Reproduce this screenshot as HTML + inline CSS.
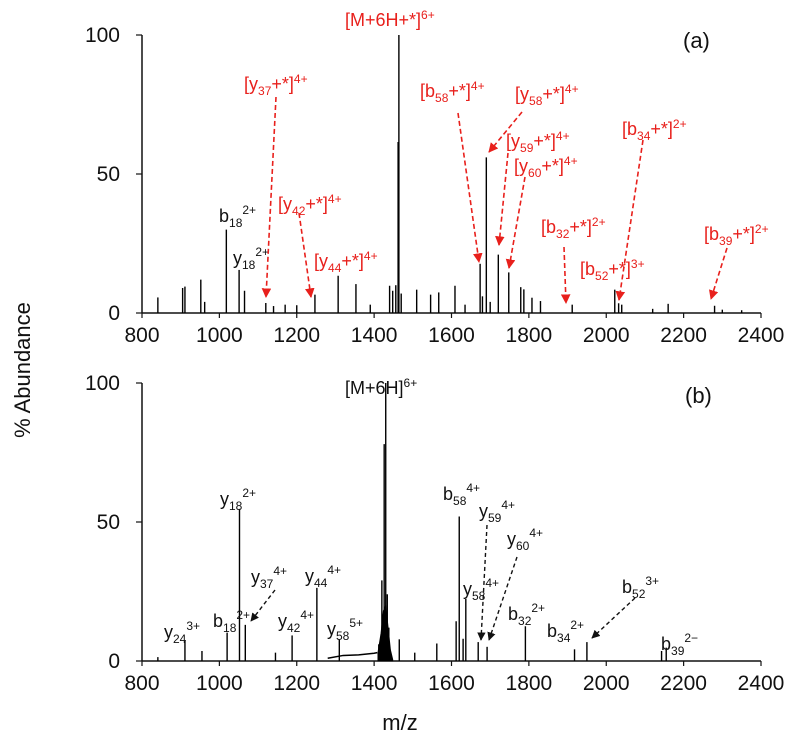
<!DOCTYPE html>
<html><head><meta charset="utf-8"><style>
html,body{margin:0;padding:0;background:#fff}
svg{display:block;font-family:"Liberation Sans",sans-serif}
.red{fill:#e8201c}.blk{fill:#111}
.ar{stroke:#e8201c;stroke-width:1.6;stroke-dasharray:5,3;fill:none}
.ab{stroke:#111;stroke-width:1.4;stroke-dasharray:4,3;fill:none}
</style></head><body>
<svg id="chart" width="800" height="740" viewBox="0 0 800 740" xmlns="http://www.w3.org/2000/svg">
<defs>
<marker id="mr" viewBox="0 0 10 10" refX="9" refY="5" markerWidth="6" markerHeight="6" orient="auto"><path d="M0,0L10,5L0,10z" fill="#e8201c"/></marker>
<marker id="mb" viewBox="0 0 10 10" refX="9" refY="5" markerWidth="6" markerHeight="6" orient="auto"><path d="M0,0L10,5L0,10z" fill="#111"/></marker>
</defs>
<g id="panelA"></g>
<g id="panelB"></g>

<text x="30" y="370" font-size="22" text-anchor="middle" transform="rotate(-90 30 370)" class="blk">% Abundance</text>
<text x="400" y="730" font-size="22" text-anchor="middle" class="blk">m/z</text>

<g font-size="18" class="red">
<text x="345" y="26">[M+6H+*]<tspan font-size="12" dy="-7">6+</tspan></text>
<text x="244" y="90">[y<tspan font-size="12" dy="5">37</tspan><tspan dy="-5">+*]</tspan><tspan font-size="12" dy="-7">4+</tspan></text>
<text x="420" y="97">[b<tspan font-size="12" dy="5">58</tspan><tspan dy="-5">+*]</tspan><tspan font-size="12" dy="-7">4+</tspan></text>
<text x="515" y="100">[y<tspan font-size="12" dy="5">58</tspan><tspan dy="-5">+*]</tspan><tspan font-size="12" dy="-7">4+</tspan></text>
<text x="506" y="147">[y<tspan font-size="12" dy="5">59</tspan><tspan dy="-5">+*]</tspan><tspan font-size="12" dy="-7">4+</tspan></text>
<text x="514" y="172">[y<tspan font-size="12" dy="5">60</tspan><tspan dy="-5">+*]</tspan><tspan font-size="12" dy="-7">4+</tspan></text>
<text x="622" y="135">[b<tspan font-size="12" dy="5">34</tspan><tspan dy="-5">+*]</tspan><tspan font-size="12" dy="-7">2+</tspan></text>
<text x="278" y="210">[y<tspan font-size="12" dy="5">42</tspan><tspan dy="-5">+*]</tspan><tspan font-size="12" dy="-7">4+</tspan></text>
<text x="314" y="267">[y<tspan font-size="12" dy="5">44</tspan><tspan dy="-5">+*]</tspan><tspan font-size="12" dy="-7">4+</tspan></text>
<text x="541" y="233">[b<tspan font-size="12" dy="5">32</tspan><tspan dy="-5">+*]</tspan><tspan font-size="12" dy="-7">2+</tspan></text>
<text x="580" y="275">[b<tspan font-size="12" dy="5">52</tspan><tspan dy="-5">+*]</tspan><tspan font-size="12" dy="-7">3+</tspan></text>
<text x="704" y="240">[b<tspan font-size="12" dy="5">39</tspan><tspan dy="-5">+*]</tspan><tspan font-size="12" dy="-7">2+</tspan></text>
</g>
<g font-size="18" class="blk">
<text x="219" y="222">b<tspan font-size="12" dy="5">18</tspan><tspan font-size="12" dy="-13">2+</tspan></text>
<text x="233" y="264">y<tspan font-size="12" dy="5">18</tspan><tspan font-size="12" dy="-13">2+</tspan></text>
<text x="683" y="48" font-size="22">(a)</text>
</g>
<g>
<line class="ar" marker-end="url(#mr)" x1="276" y1="97" x2="266" y2="297"/>
<line class="ar" marker-end="url(#mr)" x1="458" y1="113" x2="479" y2="262"/>
<line class="ar" marker-end="url(#mr)" x1="522" y1="112" x2="489" y2="152"/>
<line class="ar" marker-end="url(#mr)" x1="508" y1="153" x2="499" y2="245"/>
<line class="ar" marker-end="url(#mr)" x1="525" y1="177" x2="509" y2="268"/>
<line class="ar" marker-end="url(#mr)" x1="643" y1="140" x2="619" y2="300"/>
<line class="ar" marker-end="url(#mr)" x1="299" y1="213" x2="311" y2="297"/>
<line class="ar" marker-end="url(#mr)" x1="564" y1="247" x2="566" y2="303"/>
<line class="ar" marker-end="url(#mr)" x1="727" y1="248" x2="711" y2="299"/>
</g>

<g font-size="18" class="blk">
<text x="345" y="394">[M+6H]<tspan font-size="12" dy="-7">6+</tspan></text>
<text x="685" y="403" font-size="22">(b)</text>
<text x="220" y="505">y<tspan font-size="12" dy="5">18</tspan><tspan font-size="12" dy="-13">2+</tspan></text>
<text x="443" y="500">b<tspan font-size="12" dy="5">58</tspan><tspan font-size="12" dy="-13">4+</tspan></text>
<text x="479" y="517">y<tspan font-size="12" dy="5">59</tspan><tspan font-size="12" dy="-13">4+</tspan></text>
<text x="507" y="545">y<tspan font-size="12" dy="5">60</tspan><tspan font-size="12" dy="-13">4+</tspan></text>
<text x="251" y="583">y<tspan font-size="12" dy="5">37</tspan><tspan font-size="12" dy="-13">4+</tspan></text>
<text x="305" y="582">y<tspan font-size="12" dy="5">44</tspan><tspan font-size="12" dy="-13">4+</tspan></text>
<text x="463" y="595">y<tspan font-size="12" dy="5">58</tspan><tspan font-size="12" dy="-13">4+</tspan></text>
<text x="508" y="620">b<tspan font-size="12" dy="5">32</tspan><tspan font-size="12" dy="-13">2+</tspan></text>
<text x="622" y="593">b<tspan font-size="12" dy="5">52</tspan><tspan font-size="12" dy="-13">3+</tspan></text>
<text x="547" y="637">b<tspan font-size="12" dy="5">34</tspan><tspan font-size="12" dy="-13">2+</tspan></text>
<text x="661" y="650">b<tspan font-size="12" dy="5">39</tspan><tspan font-size="12" dy="-13">2−</tspan></text>
<text x="164" y="638">y<tspan font-size="12" dy="5">24</tspan><tspan font-size="12" dy="-13">3+</tspan></text>
<text x="213" y="627">b<tspan font-size="12" dy="5">18</tspan><tspan font-size="12" dy="-13">2+</tspan></text>
<text x="278" y="627">y<tspan font-size="12" dy="5">42</tspan><tspan font-size="12" dy="-13">4+</tspan></text>
<text x="327" y="635">y<tspan font-size="12" dy="5">58</tspan><tspan font-size="12" dy="-13">5+</tspan></text>
</g>
<g>
<line class="ab" marker-end="url(#mb)" x1="487" y1="525" x2="481" y2="640"/>
<line class="ab" marker-end="url(#mb)" x1="517" y1="557" x2="489" y2="640"/>
<line class="ab" marker-end="url(#mb)" x1="275" y1="590" x2="251" y2="621"/>
<line class="ab" marker-end="url(#mb)" x1="635" y1="598" x2="592" y2="638"/>
</g>
</svg>
<script>
// Panel (a) peaks
const mzA = [841,905,911,952,962,1018,1051,1065,1120,1140,1170,1200,1247,1307,1353,1390,1440,1448,1456,1462,1464,1470,1510,1546,1567,1609,1635,1674,1680,1690,1700,1721,1748,1779,1787,1808,1830,1912,2022,2032,2040,2120,2160,2280,2300,2350];
const abA = [5.6,9,9.5,12,4,30,15.5,8,3.6,2.5,3,2.8,6.6,13.4,10.4,3,9.8,8,10,61.5,100,7,8.4,6.6,7.4,9.8,3,17.7,6,56,4,21,14.6,9.3,8.5,5.5,4.3,3,8.4,3.5,3,1.5,3.3,2.6,1.2,1];
// Panel (b) peaks
const mzB = [841,911,955,1020,1052,1067,1145,1188,1252,1310,1412,1420,1426,1430,1434,1438,1465,1505,1562,1612,1620,1630,1637,1669,1692,1791,1918,1950,2143,2155];
const abB = [1.4,7.2,3.6,10.2,54.7,13,3,9.2,26.3,7.8,6,29,78,100,24,12,7.8,3,6.3,14.3,52,8,22.3,6.8,5.1,12.5,4.2,6.8,3.6,4.8];
// Raised baseline before the precursor in panel (b)
const baseMz = [1280,1320,1360,1400,1408];
const baseAb = [1,2,2.2,2.8,3];
// Narrow precursor envelope in panel (b)
const humpMz = [1410,1418,1424,1430,1436,1442,1448];
const humpAb = [3,10,18,20,12,4,0.5];
const xTicks = [800,1000,1200,1400,1600,1800,2000,2200,2400];
const yTicks = [0,50,100];

const NS="http://www.w3.org/2000/svg";
const X0=142, X1=761;
const x = mz => X0 + (mz-800)*(X1-X0)/1600;
function mk(tag, attrs, parent){const e=document.createElementNS(NS,tag);for(const k in attrs)e.setAttribute(k,attrs[k]);parent.appendChild(e);return e;}

function panel(g, y0, y100, mzs, abs, tag){
  const y = v => y0 - v*(y0-y100)/100;
  const ax=mk('line',{x1:X0,y1:y(0),x2:X1,y2:y(0),stroke:'#111','stroke-width':1.5},g);
  
  
  const ay=mk('line',{x1:X0,y1:y(0),x2:X0,y2:y(100),stroke:'#111','stroke-width':1.5},g);
  
  
  xTicks.forEach(t=>{
    mk('line',{x1:x(t),y1:y(0),x2:x(t),y2:y(0)+5,stroke:'#111','stroke-width':1.2},g);
    const tx=mk('text',{x:x(t),y:y(0)+29,'font-size':21,'text-anchor':'middle',fill:'#111'},g);
    tx.textContent=t;
    
    
  });
  yTicks.forEach(t=>{
    mk('line',{x1:X0-6,y1:y(t),x2:X0,y2:y(t),stroke:'#111','stroke-width':1.2},g);
    const ty=mk('text',{x:X0-22,y:y(t)+7,'font-size':21,'text-anchor':'end',fill:'#111'},g);
    ty.textContent=t;
    
    
  });
  mzs.forEach((m,i)=>{
    const p=mk('line',{x1:x(m),y1:y(0),x2:x(m),y2:y(abs[i]),stroke:'#000','stroke-width':1.4},g);
    
    
  });
  return y;
}
const ya = panel(document.getElementById('panelA'),313,35,mzA,abA,'panel-a');
const yb = panel(document.getElementById('panelB'),661,383,mzB,abB,'panel-b');
const gB=document.getElementById('panelB');
const bl=mk('polyline',{points:baseMz.map((m,i)=>x(m)+','+yb(baseAb[i])).join(' '),fill:'none',stroke:'#000','stroke-width':1.5},gB);


let d='M'+x(humpMz[0])+','+yb(0);
humpMz.forEach((m,i)=>{d+=' L'+x(m)+','+yb(humpAb[i]);});
d+=' L'+x(humpMz[humpMz.length-1])+','+yb(0)+'Z';
const hp=mk('path',{d:d,fill:'#000',stroke:'#000','stroke-width':1},gB);


</script>
</body></html>
